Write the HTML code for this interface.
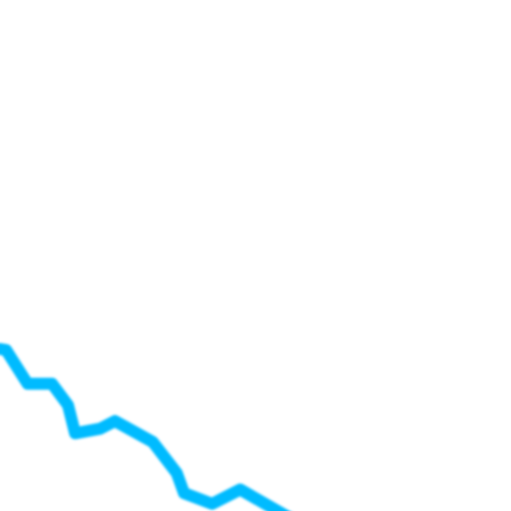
<!DOCTYPE html>
<html lang="en">
<head>
<meta charset="utf-8">
<title>Line chart crop</title>
<style>
html,body{margin:0;padding:0;background:#fff;width:511px;height:511px;overflow:hidden}
svg{display:block}
</style>
</head>
<body>
<svg id="chart" width="511" height="511" viewBox="0 0 511 511" xmlns="http://www.w3.org/2000/svg">
<defs><filter id="soft" x="-10%" y="-10%" width="120%" height="120%"><feGaussianBlur stdDeviation="1.2"/></filter></defs>
<rect width="511" height="511" fill="#ffffff"/>
</svg>
<script>
const categories = [0, 1.2, 5.4, 10.2, 13.3, 14.7, 19.6, 22.5, 29.9, 32.3, 34.6, 36, 41.5, 47, 56.8];
const seriesValues = [31.7, 31.5, 24.9, 24.9, 20.7, 15.2, 16.1, 17.6, 13.5, 10.4, 7.4, 3.5, 1.4, 4.2, -1.4];

function xScale(v) { return v / 100 * 511; }
function yScale(v) { return 511 - v / 100 * 511; }

const svg = document.getElementById('chart');
const line = document.createElementNS('http://www.w3.org/2000/svg', 'path');


line.setAttribute('d', categories.map((c, i) => (i ? 'L' : 'M') + xScale(c).toFixed(1) + ' ' + yScale(seriesValues[i]).toFixed(1)).join(' '));
line.setAttribute('fill', 'none');
line.setAttribute('stroke', '#00bbff');
line.setAttribute('stroke-width', '12');
line.setAttribute('stroke-linejoin', 'round');
line.setAttribute('stroke-linecap', 'round');
line.setAttribute('filter', 'url(#soft)');
svg.appendChild(line);
</script>
</body>
</html>
